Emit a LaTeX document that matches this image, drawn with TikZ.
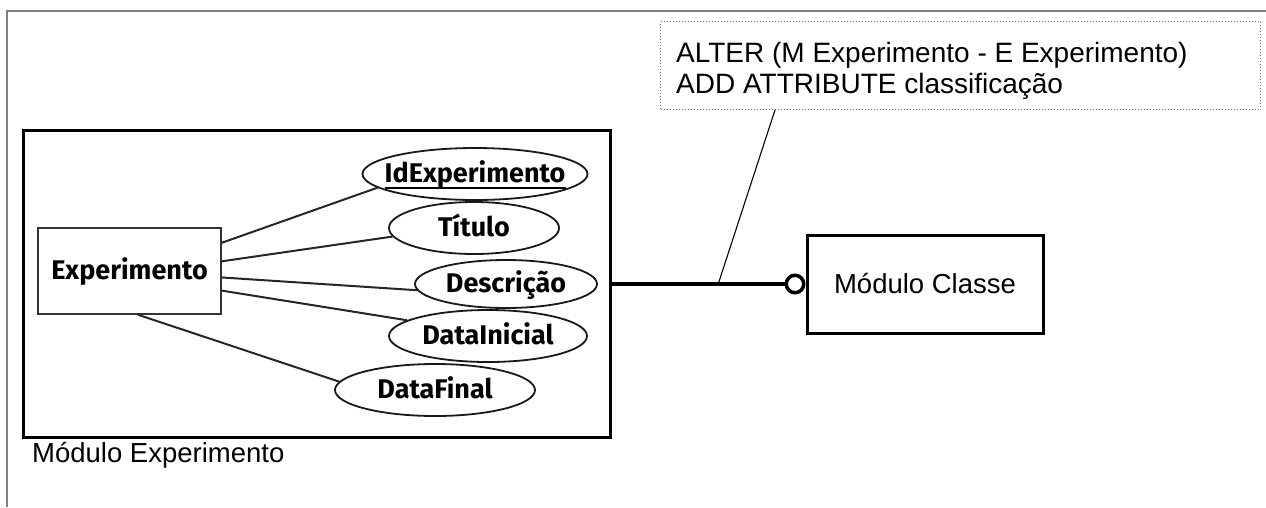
\documentclass[tikz,border=0pt]{standalone}
\usepackage{fontspec}
\setmainfont{Liberation Sans}
\newfontfamily\erfont{Fira Sans}
\usetikzlibrary{shapes.geometric,arrows.meta,calc}

\begin{document}
\begin{tikzpicture}[x=1pt,y=-1pt,
  frame/.style={draw=black!50, line width=1.5pt},
  modbox/.style={draw, line width=3pt, inner sep=0pt},
  entbox/.style={draw=black!80, line width=1.5pt, inner sep=0pt},
  attr/.style={ellipse, draw=black!90, line width=1.8pt, inner sep=0pt, minimum height=52pt},
  ertext/.style={inner sep=0pt, text height=17pt, text depth=0pt,
    font=\erfont\bfseries\fontsize{27}{30}\selectfont},
  plain/.style={inner sep=0pt, font=\fontsize{27.5}{31}\selectfont},
  link/.style={draw=black!85, line width=2pt},
  notebox/.style={draw=black!55, dotted, line width=1pt, inner sep=0pt}
]
\useasboundingbox (0,0) rectangle (1266,507);

% outer frame, top and left edges only
\draw[frame] (7,507) -- (7,11) -- (1266,11);

% module containing the entity
\node[modbox, minimum width=587pt, minimum height=307pt] (mod) at (316.5,283.5) {};
\node[plain, anchor=base west] (modlabel) at (32,462) {Módulo Experimento};

% entity
\node[entbox, minimum width=183pt, minimum height=86pt] (exp) at (129.5,271) {};
\node[ertext] (exptext) at (exp) {Experimento};

% attributes
\node[attr, minimum width=225pt] (idexp) at (475,174) {};
\node[attr, minimum width=170pt] (titulo) at (474,228) {};
\node[attr, minimum width=182pt, minimum height=48pt] (descr) at (506,284) {};
\node[attr, minimum width=198pt] (dini) at (488,336) {};
\node[attr, minimum width=200pt] (dfim) at (435,390) {};

\node[ertext] (idtext) at (idexp) {IdExperimento};
\draw[line width=2pt] ([yshift=-5pt]idtext.base west) -- ([yshift=-5pt]idtext.base east);
\node[ertext] (titext) at (titulo) {Título};
\node[ertext] (detext) at (descr) {Descrição};
\node[ertext] (ditext) at (dini) {DataInicial};
\node[ertext] (dftext) at (dfim) {DataFinal};

\draw[link] (exp.17.6) -- (idexp.188.7);
\draw[link] (exp.6.2) -- (titulo.186.8);
\draw[link] (exp.-4.4) -- (descr.184.7);
\draw[link] (exp.-12.3) -- (dini.169.3);
\draw[link] (exp.-79) -- (dfim.175.3);

% other module
\node[modbox, minimum width=236pt, minimum height=98pt, font=\fontsize{27.5}{31}\selectfont] (classe) at (925,284) {Módulo Classe};

% relationship between the modules
\draw[line width=4pt, -{Circle[open, length=21pt, width=21pt, line width=3.5pt]}]
  (mod.east |- classe.west) -- (classe.west);
\coordinate (tap) at ($(mod.east |- classe.west)!0.55!(classe.west)$);

% note
\node[notebox, minimum width=600pt, minimum height=88pt, anchor=north west] (note) at (660,21) {};
\node[plain, font=\fontsize{28}{31}\selectfont, anchor=base west] (note1) at (676,62) {ALTER (M Experimento - E Experimento)};
\node[plain, font=\fontsize{28}{31}\selectfont, anchor=base west] (note2) at (676,93) {ADD ATTRIBUTE classificação};
\coordinate (noteend) at ($(note.south west)+(115,0)$);
\draw[line width=1.1pt] (tap) -- (noteend);
\end{tikzpicture}
\end{document}
